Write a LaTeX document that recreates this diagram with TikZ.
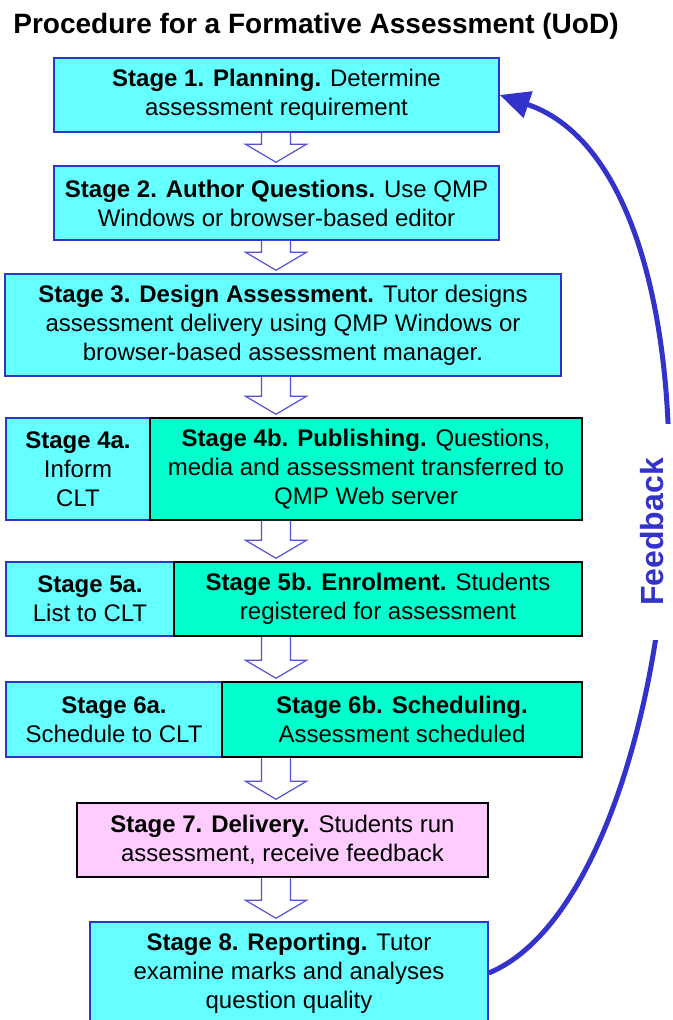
\documentclass[tikz,border=0pt]{standalone}
\usepackage{fontspec}
\setmainfont{Liberation Sans}
\usetikzlibrary{arrows.meta,calc}

\definecolor{stagecyan}{HTML}{66FFFF}
\definecolor{stagegreen}{HTML}{00FFCC}
\definecolor{stagepink}{HTML}{FFCCFF}
\definecolor{linkblue}{HTML}{3333CC}

\tikzset{
  stage/.style={rectangle, align=center, inner sep=0pt, line width=1.5pt,
    font=\fontsize{24}{29}\selectfont},
  cyanstage/.style={stage, draw=linkblue, fill=stagecyan},
  greenstage/.style={stage, draw=black, fill=stagegreen},
  pinkstage/.style={stage, draw=black, fill=stagepink},
  hollow/.style={draw=linkblue!85, fill=white, line width=1.2pt, line join=miter},
  feedback/.style={draw=linkblue, line width=5pt, -{Triangle[length=30pt,width=27pt]}}
}

% hollow down arrow from one stage to the next
\newcommand\hollowarrow[2]{%
  \draw[hollow] let \p1=(axis |- #1.south), \p2=(axis |- #2.north) in
    (\x1-14.5pt,\y1) -- (\x1-14.5pt,\y2+21pt) -- (\x1-30.5pt,\y2+21pt)
    -- (\x1,\y2+3pt) -- (\x1+30.5pt,\y2+21pt) -- (\x1+14.5pt,\y2+21pt)
    -- (\x1+14.5pt,\y1);}

\begin{document}
\begin{tikzpicture}[x=1pt,y=1pt]
    \useasboundingbox (0,0) rectangle (672,-1020);
    \coordinate (axis) at (276,0);

    % Title
    \node[anchor=base, font=\fontsize{28}{32}\selectfont\bfseries] (title) at (316,-33)
        {Procedure for a Formative Assessment (UoD)};

    % Stages 1 to 3
    \node[cyanstage, minimum width=445pt, minimum height=74pt] (s1) at (276.5,-95)
        {\textbf{Stage 1. Planning.} Determine\\assessment requirement};
    \node[cyanstage, minimum width=445pt, minimum height=74pt] (s2) at (276.5,-203)
        {\textbf{Stage 2. Author Questions.} Use QMP\\Windows or browser-based editor};
    \node[cyanstage, minimum width=556pt, minimum height=102pt] (s3) at (283,-325)
        {\textbf{Stage 3. Design Assessment.} Tutor designs\\assessment delivery using QMP Windows or\\browser-based assessment manager.};

    % Stage 4
    \node[cyanstage, minimum width=144pt, minimum height=102pt] (s4a) at (78,-469)
        {\textbf{Stage 4a.}\\Inform\\CLT};
    \node[greenstage, minimum width=432pt, minimum height=102pt] (s4b) at (366,-469)
        {\textbf{Stage 4b. Publishing.} Questions,\\media and assessment transferred to\\QMP Web server};

    % Stage 5
    \node[cyanstage, minimum width=168pt, minimum height=74pt] (s5a) at (90,-599)
        {\textbf{Stage 5a.}\\List to CLT};
    \node[greenstage, minimum width=408pt, minimum height=74pt] (s5b) at (378,-599)
        {\textbf{Stage 5b. Enrolment.} Students\\registered for assessment};

    % Stage 6
    \node[cyanstage, minimum width=216pt, minimum height=75pt] (s6a) at (114,-719.5)
        {\textbf{Stage 6a.}\\Schedule to CLT};
    \node[greenstage, minimum width=360pt, minimum height=75pt] (s6b) at (402,-719.5)
        {\textbf{Stage 6b. Scheduling.}\\Assessment scheduled};

    % Stages 7 and 8
    \node[pinkstage, minimum width=411pt, minimum height=74pt] (s7) at (282.5,-840)
        {\textbf{Stage 7. Delivery.} Students run\\assessment, receive feedback};
    \node[cyanstage, minimum width=398pt, minimum height=102pt] (s8) at (289,-973)
        {\textbf{Stage 8. Reporting.} Tutor\\examine marks and analyses\\question quality};

    % Flow between stages
    \hollowarrow{s1}{s2}
    \hollowarrow{s2}{s3}
    \hollowarrow{s3}{s4b}
    \hollowarrow{s4b}{s5b}
    \hollowarrow{s5b}{s6b}
    \hollowarrow{s6b}{s7}
    \hollowarrow{s7}{s8}

    % Feedback loop
    \draw[feedback] (s8.east) .. controls (690,-890) and (750,-180) .. (s1.east);
    \node[rotate=90, fill=white, text=linkblue, inner xsep=34pt, inner ysep=10pt,
        font=\fontsize{32}{36}\selectfont\bfseries] (fb) at (652,-532) {Feedback};
\end{tikzpicture}
\end{document}
